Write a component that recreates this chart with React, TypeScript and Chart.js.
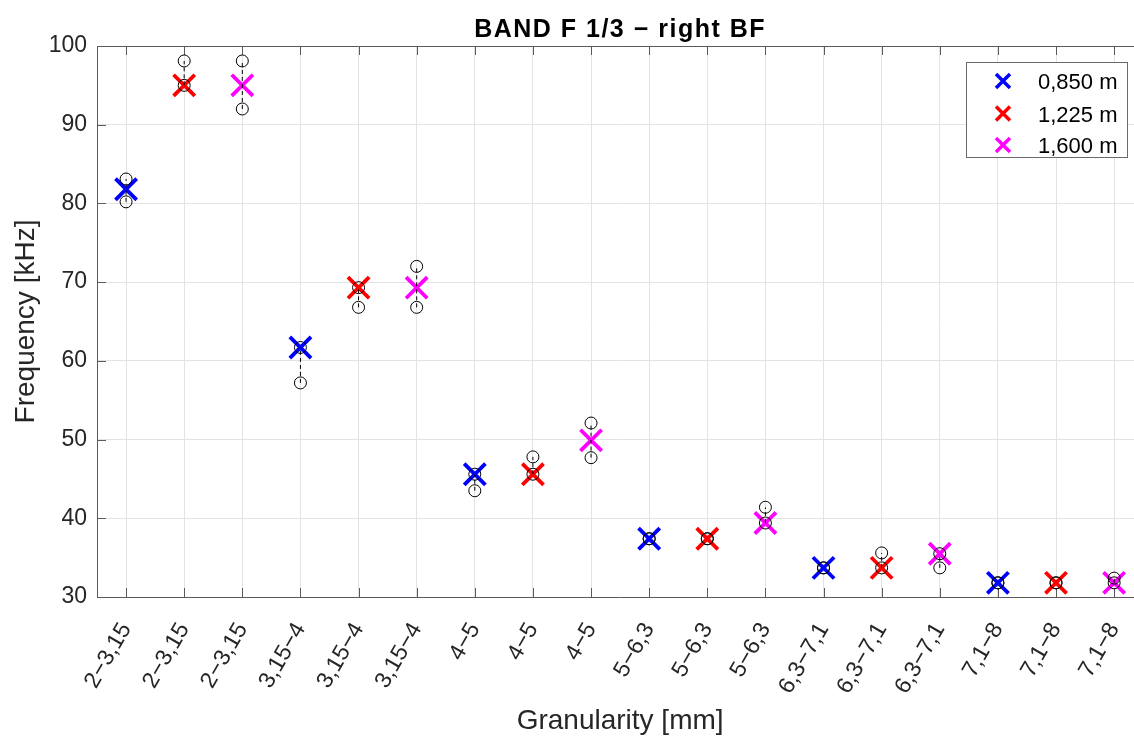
import React, { useEffect, useRef } from 'react';
import { Chart, registerables } from 'chart.js';

Chart.register(...registerables);

// ---------- data ----------
const tickLabels = [
  '2−3,15', '2−3,15', '2−3,15',
  '3,15−4', '3,15−4', '3,15−4',
  '4−5', '4−5', '4−5',
  '5−6,3', '5−6,3', '5−6,3',
  '6,3−7,1', '6,3−7,1', '6,3−7,1',
  '7,1−8', '7,1−8', '7,1−8',
];
const groups = ['2−3,15', '3,15−4', '4−5', '5−6,3', '6,3−7,1', '7,1−8'];
const seriesNames = ['0,850 m', '1,225 m', '1,600 m'];
const seriesColors = ['#0000ff', '#ff0000', '#ff00ff'];

const mean085 = [81.8, 61.7, 45.6, 37.4, 33.7, 31.8];
const min085 = [80.2, 57.2, 43.5, 37.4, 33.7, 31.8];
const max085 = [83.1, 61.7, 45.6, 37.4, 33.7, 31.8];

const mean1225 = [95.0, 69.3, 45.6, 37.4, 33.7, 31.8];
const min1225 = [95.0, 66.8, 45.6, 37.4, 33.7, 31.8];
const max1225 = [98.1, 69.3, 47.8, 37.4, 35.6, 31.8];

const mean1600 = [95.0, 69.3, 49.9, 39.4, 35.5, 31.8];
const min1600 = [92.0, 66.8, 47.7, 39.4, 33.7, 31.8];
const max1600 = [98.1, 72.0, 52.1, 41.4, 35.5, 32.4];

const yMin = 30;
const yMax = 100;
const yStep = 10;

const titleText = 'BAND F 1/3 − right BF';
const xTitle = 'Granularity [mm]';
const yTitle = 'Frequency [kHz]';

const FONT = '"Liberation Sans", Arial, sans-serif';

const CANVAS_W = 1162;
const CANVAS_H = 740;

const means = [mean085, mean1225, mean1600];
const mins = [min085, min1225, min1600];
const maxs = [max085, max1225, max1600];

const xPos = (g: number, s: number) => g * 3 + s + 1;

const decorPlugin = {
  id: 'decor',
  beforeDatasetsDraw(chart: any) {
    const { ctx, chartArea: a, scales } = chart;
    const x = scales.x;
    const y = scales.y;
    ctx.save();
    ctx.strokeStyle = '#5a5a5a';
    ctx.lineWidth = 1;
    ctx.beginPath();
    const L = 9;
    x.ticks.forEach((t: any) => {
      const px = Math.round(x.getPixelForValue(t.value)) + 0.5;
      ctx.moveTo(px, a.bottom);
      ctx.lineTo(px, a.bottom - L);
      ctx.moveTo(px, a.top);
      ctx.lineTo(px, a.top + L);
    });
    y.ticks.forEach((t: any) => {
      const py = Math.round(y.getPixelForValue(t.value)) + 0.5;
      ctx.moveTo(a.left, py);
      ctx.lineTo(a.left + L, py);
      ctx.moveTo(a.right, py);
      ctx.lineTo(a.right - L, py);
    });
    ctx.moveTo(a.left, Math.round(a.top) + 0.5);
    ctx.lineTo(a.right, Math.round(a.top) + 0.5);
    ctx.stroke();
    ctx.restore();
  },
  afterDraw(chart: any) {
    const { ctx, chartArea: a } = chart;
    ctx.save();
    // title
    ctx.fillStyle = '#000';
    ctx.font = `bold 25px ${FONT}`;
    (ctx as any).letterSpacing = '1.5px';
    ctx.textAlign = 'center';
    ctx.textBaseline = 'alphabetic';
    ctx.fillText(titleText, (a.left + a.right) / 2, 37);
    (ctx as any).letterSpacing = '0px';

    // legend
    const bx = 966.5, by = 62.5, bw = 161, bh = 95;
    ctx.fillStyle = '#fff';
    ctx.fillRect(bx, by, bw, bh);
    ctx.strokeStyle = '#6a6a6a';
    ctx.lineWidth = 1;
    ctx.strokeRect(bx, by, bw, bh);
    const rowsY = [81, 113.5, 145];
    seriesNames.forEach((name, i) => {
      const cx = 1003, cy = rowsY[i];
      const h = 7;
      ctx.strokeStyle = seriesColors[i];
      ctx.lineWidth = 3.5;
      ctx.beginPath();
      ctx.moveTo(cx - h, cy - h);
      ctx.lineTo(cx + h, cy + h);
      ctx.moveTo(cx + h, cy - h);
      ctx.lineTo(cx - h, cy + h);
      ctx.stroke();
      ctx.fillStyle = '#000';
      ctx.font = `22px ${FONT}`;
      ctx.textAlign = 'left';
      ctx.textBaseline = 'middle';
      ctx.fillText(name, 1038, cy + 2);
    });
    ctx.restore();
  },
};

const zeroPad = (scale: any) => {
  scale.paddingLeft = 0;
  scale.paddingRight = 0;
  scale.paddingTop = 0;
  scale.paddingBottom = 0;
};

export default function App() {
  const ref = useRef<HTMLCanvasElement | null>(null);

  useEffect(() => {
    document.body.style.margin = '0';
    document.body.style.overflow = 'hidden';
    const canvas = ref.current;
    if (!canvas) return;

    const datasets: any[] = [];
    seriesNames.forEach((name, s) => {
      datasets.push({
        label: name,
        data: groups.map((_, g) => ({ x: xPos(g, s), y: means[s][g] })),
        showLine: false,
        pointStyle: 'crossRot',
        pointRadius: 15,
        pointHoverRadius: 15,
        pointBorderWidth: 3.8,
        pointBorderColor: seriesColors[s],
        pointBackgroundColor: seriesColors[s],
        borderColor: seriesColors[s],
        backgroundColor: seriesColors[s],
        order: 2,
      });
    });
    seriesNames.forEach((name, s) => {
      const data: any[] = [];
      groups.forEach((_, g) => {
        data.push({ x: xPos(g, s), y: mins[s][g] });
        data.push({ x: xPos(g, s), y: maxs[s][g] });
        data.push({ x: xPos(g, s), y: null });
      });
      datasets.push({
        label: name + ' range',
        data,
        showLine: true,
        spanGaps: false,
        borderColor: '#000',
        borderWidth: 1,
        borderDash: [4, 3],
        pointStyle: 'circle',
        pointRadius: 6,
        pointHoverRadius: 6,
        pointBorderWidth: 1,
        pointBorderColor: '#000',
        pointBackgroundColor: 'rgba(0,0,0,0)',
        order: 1,
      });
    });

    const chart = new Chart(canvas, {
      type: 'scatter',
      data: { datasets },
      plugins: [decorPlugin],
      options: {
        responsive: false,
        animation: false,
        events: [],
        layout: { padding: { left: 0, right: 0, top: 46, bottom: 0 } },
        plugins: {
          legend: { display: false },
          title: { display: false },
          tooltip: { enabled: false },
        },
        scales: {
          x: {
            type: 'linear',
            min: 0.5,
            max: tickLabels.length + 0.5,
            afterBuildTicks: (scale: any) => {
              scale.ticks = tickLabels.map((_, i) => ({ value: i + 1 }));
            },
            afterFit: (scale: any) => {
              scale.height = 143;
              zeroPad(scale);
            },
            grid: { color: '#e3e3e3', lineWidth: 1, drawTicks: false },
            border: { display: true, color: '#5a5a5a', width: 1 },
            ticks: {
              autoSkip: false,
              maxRotation: 60,
              minRotation: 60,
              padding: 21,
              color: '#262626',
              font: { family: FONT, size: 23 },
              callback: (v: any) => tickLabels[Math.round(Number(v)) - 1] ?? '',
            },
            title: {
              display: true,
              text: xTitle,
              color: '#262626',
              font: { family: FONT, size: 28 },
              padding: { top: 0, bottom: 2 },
            },
          },
          y: {
            type: 'linear',
            min: yMin,
            max: yMax,
            afterFit: (scale: any) => {
              scale.width = 97;
              zeroPad(scale);
            },
            grid: { color: '#e3e3e3', lineWidth: 1, drawTicks: false },
            border: { display: true, color: '#5a5a5a', width: 1 },
            ticks: {
              stepSize: yStep,
              padding: 10,
              color: '#262626',
              font: { family: FONT, size: 23 },
            },
            title: {
              display: true,
              text: yTitle,
              color: '#262626',
              font: { family: FONT, size: 28 },
              padding: { top: 9, bottom: 0 },
            },
          },
        },
      } as any,
    });
    return () => chart.destroy();
  }, []);

  return (
    <div style={{ width: 1134, height: CANVAS_H, overflow: 'hidden' }}>
      <canvas ref={ref} width={CANVAS_W} height={CANVAS_H} style={{ display: 'block' }} />
    </div>
  );
}
